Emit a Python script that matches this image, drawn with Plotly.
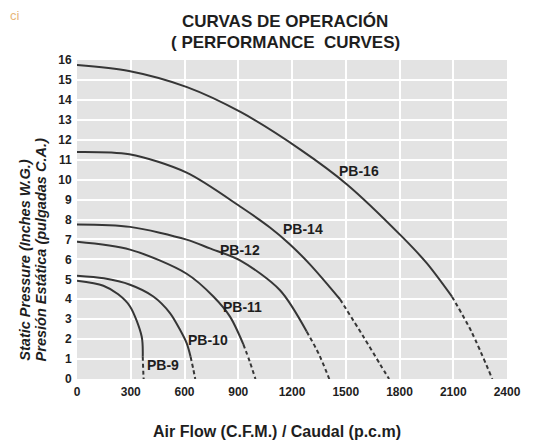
import plotly.graph_objects as go

# ---- data ----
x_ticks = [0, 300, 600, 900, 1200, 1500, 1800, 2100, 2400]
y_ticks = list(range(0, 17))

curve_names = ["PB-9", "PB-10", "PB-11", "PB-12", "PB-14", "PB-16"]

pb9_solid_x = [0, 147, 230, 296, 361, 367]
pb9_solid_y = [4.93, 4.68, 4.25, 3.64, 2.13, 1.12]
pb9_dash_x = [367, 370, 372]
pb9_dash_y = [1.12, 0.35, 0.0]

pb10_solid_x = [0, 150, 296, 426, 519, 575, 612, 634]
pb10_solid_y = [5.18, 5.05, 4.73, 4.14, 3.31, 2.47, 1.80, 1.12]
pb10_dash_x = [634, 650, 660]
pb10_dash_y = [1.12, 0.45, 0.0]

pb11_solid_x = [0, 296, 612, 761, 854, 928]
pb11_solid_y = [6.88, 6.49, 5.28, 4.14, 3.13, 1.75]
pb11_dash_x = [928, 965, 996]
pb11_dash_y = [1.75, 0.85, 0.0]

pb12_solid_x = [0, 296, 612, 742, 910, 1133, 1282]
pb12_solid_y = [7.75, 7.63, 6.99, 6.55, 5.95, 4.45, 2.38]
pb12_dash_x = [1282, 1350, 1408]
pb12_dash_y = [2.38, 1.25, 0.0]

pb14_solid_x = [0, 292, 612, 919, 1077, 1189, 1300, 1412, 1468]
pb14_solid_y = [11.39, 11.27, 10.35, 8.6, 7.6, 6.75, 5.75, 4.6, 4.0]
pb14_dash_x = [1468, 1598, 1691, 1742]
pb14_dash_y = [4.0, 2.13, 0.75, 0.0]

pb16_solid_x = [0, 290, 614, 915, 1245, 1507, 1814, 1951, 2093]
pb16_solid_y = [15.75, 15.45, 14.64, 13.38, 11.52, 9.76, 7.14, 5.82, 4.13]
pb16_dash_x = [2093, 2203, 2318]
pb16_dash_y = [4.13, 2.35, 0.0]

label_x = [480, 731, 925, 910, 1261, 1575]
label_y = [0.7, 1.95, 3.6, 6.45, 7.5, 10.45]

solids = [(pb9_solid_x, pb9_solid_y), (pb10_solid_x, pb10_solid_y), (pb11_solid_x, pb11_solid_y),
          (pb12_solid_x, pb12_solid_y), (pb14_solid_x, pb14_solid_y), (pb16_solid_x, pb16_solid_y)]
dashes = [(pb9_dash_x, pb9_dash_y), (pb10_dash_x, pb10_dash_y), (pb11_dash_x, pb11_dash_y),
          (pb12_dash_x, pb12_dash_y), (pb14_dash_x, pb14_dash_y), (pb16_dash_x, pb16_dash_y)]

LINE = "#363636"
TXT = "#1e1e1e"
FONT = "Liberation Sans, Arial, sans-serif"

fig = go.Figure()
for name, (sx, sy), (dx, dy) in zip(curve_names, solids, dashes):
    fig.add_trace(go.Scatter(x=sx, y=sy, mode="lines", name=name, showlegend=False,
                             line=dict(color=LINE, width=2, shape="spline", smoothing=0.85),
                             hoverinfo="skip"))
    fig.add_trace(go.Scatter(x=dx, y=dy, mode="lines", name=name + " ext", showlegend=False,
                             line=dict(color=LINE, width=2, dash="4px,3px", shape="spline", smoothing=0.85),
                             hoverinfo="skip"))

annotations = []
for name, lx, ly in zip(curve_names, label_x, label_y):
    annotations.append(dict(x=lx, y=ly, xref="x", yref="y", text="<b>" + name + "</b>",
                            xanchor="center", yanchor="middle",
                            showarrow=False, font=dict(family=FONT, size=14, color=TXT)))

annotations += [
    dict(x=0.484, y=1.122, xref="paper", yref="paper", text="<b>CURVAS DE OPERACIÓN</b>",
         xanchor="center", yanchor="middle",
         showarrow=False, font=dict(family=FONT, size=17, color=TXT)),
    dict(x=0.484, y=1.056, xref="paper", yref="paper", text="<b>( PERFORMANCE\u00a0 CURVES)</b>",
         xanchor="center", yanchor="middle",
         showarrow=False, font=dict(family=FONT, size=17, color=TXT)),
    dict(x=0.465, y=-0.166, xref="paper", yref="paper", text="<b>Air Flow (C.F.M.) / Caudal (p.c.m)</b>",
         xanchor="center", yanchor="middle",
         showarrow=False, font=dict(family=FONT, size=16, color=TXT)),
    dict(x=-0.123, y=0.05, xref="paper", yref="paper", text="<b><i>Static Pressure (Inches W.G.)</i></b>",
         textangle=-90, xanchor="center", yanchor="bottom",
         showarrow=False, font=dict(family=FONT, size=14.5, color=TXT)),
    dict(x=-0.084, y=0.05, xref="paper", yref="paper", text="<b><i>Presión Estática (pulgadas C.A.)</i></b>",
         textangle=-90, xanchor="center", yanchor="bottom",
         showarrow=False, font=dict(family=FONT, size=14.5, color=TXT)),
    dict(x=-0.1605, y=1.141, xref="paper", yref="paper", text="ci",
         xanchor="left", yanchor="middle",
         showarrow=False, font=dict(family=FONT, size=13, color="#e8b77a")),
]

fig.update_layout(
    width=526, height=435,
    margin=dict(l=69, r=27, t=52, b=64),
    paper_bgcolor="white",
    plot_bgcolor="#e3e3e3",
    annotations=annotations,
    xaxis=dict(range=[0, 2400], tickvals=x_ticks, ticktext=[str(v) for v in x_ticks],
               showgrid=True, gridcolor="white", gridwidth=2, zeroline=False,
               showline=False, ticks="outside", ticklen=2, tickcolor="rgba(0,0,0,0)",
               tickfont=dict(family=FONT, size=12, color=TXT, weight="bold"), fixedrange=True),
    yaxis=dict(range=[0, 16], tickvals=y_ticks, ticktext=[str(v) for v in y_ticks],
               showgrid=True, gridcolor="white", gridwidth=2, zeroline=False,
               showline=False, ticks="outside", ticklen=2, tickcolor="rgba(0,0,0,0)",
               tickfont=dict(family=FONT, size=12, color=TXT, weight="bold"), fixedrange=True),
)

fig.write_html("out.html")
